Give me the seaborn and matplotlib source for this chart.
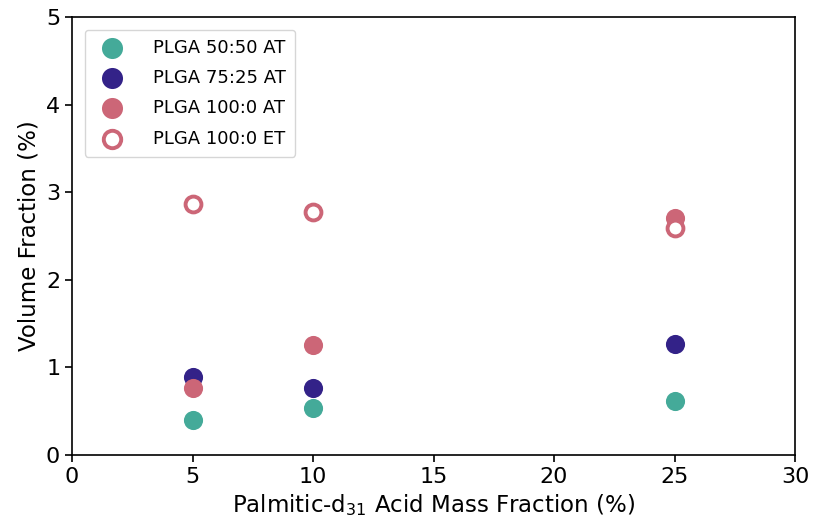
import matplotlib
matplotlib.use("Agg")
import matplotlib.pyplot as plt
import seaborn as sns
import pandas as pd

mass_fraction = [5, 10, 25]
plga_5050_at = [0.40, 0.54, 0.62]
plga_7525_at = [0.89, 0.77, 1.27]
plga_1000_at = [0.76, 1.26, 2.70]
plga_1000_et = [2.86, 2.77, 2.59]

labels = ["PLGA 50:50 AT", "PLGA 75:25 AT", "PLGA 100:0 AT", "PLGA 100:0 ET"]
colors = ["#44AA99", "#332288", "#CC6677", "#CC6677"]

sns.set_style("ticks", {"axes.edgecolor": "black", "text.color": "black",
                        "axes.labelcolor": "black", "xtick.color": "black",
                        "ytick.color": "black"})
plt.rcParams['font.family'] = ['DejaVu Sans']

fig = plt.figure(figsize=(8.14, 5.23), dpi=100)
ax = fig.add_axes([72/814, 1 - 455/523, (795-72)/814, (455-17)/523])

series = [plga_5050_at, plga_7525_at, plga_1000_at]
for lab, vals, c in zip(labels[:3], series, colors[:3]):
    df = pd.DataFrame({"x": mass_fraction, "y": vals})
    sns.scatterplot(data=df, x="x", y="y", ax=ax, color=c, s=190,
                    edgecolor=c, linewidth=0, label=lab, zorder=3)
df = pd.DataFrame({"x": mass_fraction, "y": plga_1000_et})
sns.scatterplot(data=df, x="x", y="y", ax=ax, facecolor="white", s=130,
                edgecolor=colors[3], linewidth=2.8, label=labels[3], zorder=4)

ax.set_xlim(0, 30)
ax.set_ylim(0, 5)
ax.set_xticks([0, 5, 10, 15, 20, 25, 30])
ax.set_yticks([0, 1, 2, 3, 4, 5])
ax.tick_params(labelsize=16, width=1.2, length=5)
for s in ax.spines.values():
    s.set_linewidth(1.2)
ax.set_xlabel("Palmitic-d$_{31}$ Acid Mass Fraction (%)", fontsize=16.5)
ax.set_ylabel("Volume Fraction (%)", fontsize=16.5)
ax.legend(loc="upper left", fontsize=13, frameon=True, borderpad=0.5, labelspacing=0.68,
          handletextpad=1.3, markerscale=1.1, borderaxespad=0.7)

fig.savefig("out.png", dpi=100)
